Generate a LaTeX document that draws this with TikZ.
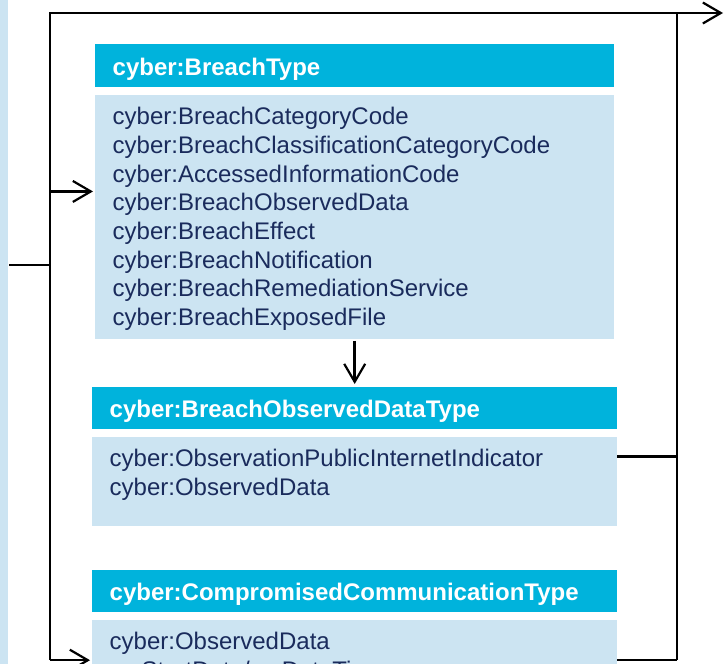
\documentclass[tikz,border=0pt]{standalone}
\usepackage{fontspec}
\setmainfont{Liberation Sans}
\usepackage{xcolor}
\usepackage{tikz}
\usetikzlibrary{calc,arrows.meta}
\definecolor{headbg}{HTML}{00B3DC}
\definecolor{bodybg}{HTML}{CCE4F2}
\definecolor{ink}{HTML}{1A2B5C}
\tikzset{
  wire/.style={draw=black, line width=2.5pt, line join=miter},
  arr/.style={wire, -{Straight Barb[length=18pt,width=21pt,line width=2.2pt]}},
  head/.style={fill=headbg, text=white, font=\bfseries\fontsize{24}{28.7}\selectfont,
    anchor=north west, align=left, text width=#1, inner xsep=17.5pt, inner ysep=0pt,
    text height=30.5pt, text depth=11.5pt},
  body/.style={fill=bodybg, text=ink, font=\fontsize{24}{28.7}\selectfont,
    anchor=north west, align=left, text width=#1, inner xsep=17.5pt, inner ysep=0pt,
    text height=29.5pt},
}

\begin{document}
\begin{tikzpicture}[x=1pt,y=-1pt]
  \clip (0,0) rectangle (724,664);
  \fill[white] (0,0) rectangle (724,664);
  \fill[bodybg] (0,0) rectangle (8,664);

  % classes
  \node[head=484pt, text height=31.5pt] (bthead) at (95,44) {cyber:BreachType};
  \node[body=484pt, text depth=214pt] (btbody) at (95,95) {cyber:BreachCategoryCode\\
    cyber:BreachClassificationCategoryCode\\
    cyber:AccessedInformationCode\\
    cyber:BreachObservedData\\
    cyber:BreachEffect\\
    cyber:BreachNotification\\
    cyber:BreachRemediationService\\
    cyber:BreachExposedFile};

  \node[head=490pt] (bodhead) at (92,387) {cyber:BreachObservedDataType};
  \node[body=490pt, text depth=59.5pt] (bodbody) at (92,437) {cyber:ObservationPublicInternetIndicator\\
    cyber:ObservedData};

  \node[head=490pt] (cchead) at (92,570) {cyber:CompromisedCommunicationType};
  \node[body=490pt, text depth=100.5pt] (ccbody) at (92,620) {cyber:ObservedData\\
    nc:StartDate/nc:DateTime};

  \coordinate (btmid) at ($(bthead.north west)!0.5!(btbody.south west)$);
  \coordinate (bodmid) at ($(bodhead.north east)!0.5!(bodbody.south east)$);
  \coordinate (ccmidw) at ($(cchead.north west)!0.5!(ccbody.south west)$);
  \coordinate (ccmide) at ($(cchead.north east)!0.5!(ccbody.south east)$);

  % connectors
  \coordinate (entry) at (9,265);
  \coordinate (split) at (50,265);
  \coordinate (top) at (50,13);
  \coordinate (out) at (723,13);
  \coordinate (bus) at (677,13);

  \draw[wire] (entry) -- (split);
  \draw[arr] (split |- ccmidw) -- (top) -- (out);
  \draw[arr, shorten >=2pt] (split |- btmid) -- (btmid);
  \draw[arr, shorten >=2pt] (split |- ccmidw) -- (ccmidw);
  \draw[arr, shorten <=2pt, shorten >=3pt] (btbody.south) -- (bodhead.north);

  \draw[wire] (bus) -- (bus |- ccmide);
  \draw[wire] (bodmid) -- (bus |- bodmid);
  \draw[wire] (ccmide) -- (bus |- ccmide);
\end{tikzpicture}
\end{document}
